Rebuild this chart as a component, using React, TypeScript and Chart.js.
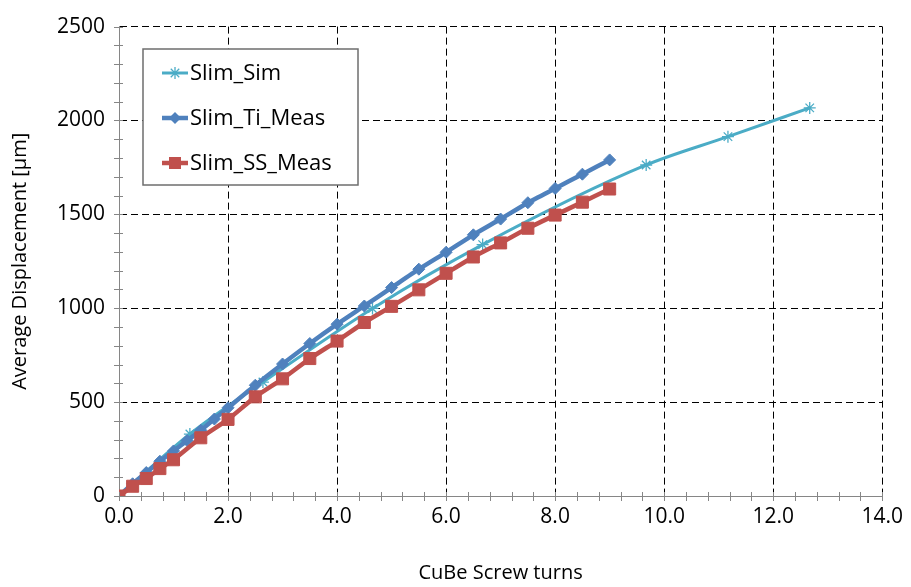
import React, { useEffect, useRef } from "react";
import { Chart, registerables } from "chart.js";
Chart.register(...registerables);

const FONT = "'Open Sans', sans-serif";

// Slim_Sim
const simX = [0, 1.3, 2.64, 4.65, 6.67, 9.67, 11.17, 12.67];
const simY = [0, 330, 607, 999, 1339, 1763, 1914, 2067];
// Slim_Ti_Meas
const tiX = [0, 0.25, 0.5, 0.75, 1, 1.25, 1.5, 1.75, 2, 2.5, 3, 3.5, 4, 4.5, 5, 5.5, 6, 6.5, 7, 7.5, 8, 8.5, 9];
const tiY = [0, 65, 125, 185, 240, 295, 350, 410, 470, 590, 703, 812, 915, 1012, 1110, 1208, 1298, 1391, 1475, 1562, 1638, 1714, 1790];
// Slim_SS_Meas
const ssX = [0, 0.25, 0.5, 0.75, 1, 1.5, 2, 2.5, 3, 3.5, 4, 4.5, 5, 5.5, 6, 6.5, 7, 7.5, 8, 8.5, 9];
const ssY = [0, 52, 93, 146, 193, 310, 408, 528, 624, 732, 825, 924, 1010, 1098, 1186, 1273, 1348, 1426, 1496, 1565, 1635];

const seriesNames = ["Slim_Sim", "Slim_Ti_Meas", "Slim_SS_Meas"];
const xTitle = "CuBe Screw turns";
const yTitle = "Average Displacement [µm]";

const CYAN = "#4BACC6";
const BLUE = "#4F81BD";
const RED = "#C0504D";
const AXIS = "#868686";

const pts = (xs: number[], ys: number[]) => xs.map((x, i) => ({ x, y: ys[i] }));

export default function App() {
  const ref = useRef<HTMLCanvasElement>(null);
  useEffect(() => {
    const canvas = ref.current!;
    const minorTicks = {
      id: "minorTicks",
      afterDraw(chart: any) {
        const c = chart.ctx;
        const xs = chart.scales.x;
        const ys = chart.scales.y;
        c.save();
        c.strokeStyle = AXIS;
        c.lineWidth = 1;
        c.beginPath();
        for (let i = 0; i <= 35; i++) {
          const px = Math.round(xs.getPixelForValue(i * 0.4)) + 0.5;
          c.moveTo(px, ys.bottom - 4);
          c.lineTo(px, ys.bottom + 5);
        }
        for (let i = 0; i <= 25; i++) {
          const py = Math.round(ys.getPixelForValue(i * 100)) + 0.5;
          c.moveTo(xs.left - 5, py);
          c.lineTo(xs.left + 4, py);
        }
        c.stroke();
        c.restore();
      },
    };
    const legendBox = {
      id: "legendBox",
      afterDraw(chart: any) {
        const c = chart.ctx;
        c.save();
        const bx = 143, by = 49, bw = 215, bh = 136;
        c.fillStyle = "#fff";
        c.fillRect(bx, by, bw, bh);
        c.strokeStyle = "#6e6e6e";
        c.lineWidth = 1.5;
        c.strokeRect(bx, by, bw, bh);
        const rows = [73, 118, 163];
        const colors = [CYAN, BLUE, RED];
        const widths = [3, 4.5, 4.5];
        const x0 = 162, x1 = 188, xm = 175;
        rows.forEach((ry, i) => {
          c.strokeStyle = colors[i];
          c.lineWidth = widths[i];
          c.beginPath();
          c.moveTo(x0, ry);
          c.lineTo(x1, ry);
          c.stroke();
          c.fillStyle = colors[i];
          if (i === 0) {
            c.lineWidth = 1.3;
            c.beginPath();
            const r = 6;
            for (let k = 0; k < 4; k++) {
              const a = (k * Math.PI) / 4;
              c.moveTo(xm - r * Math.cos(a), ry - r * Math.sin(a));
              c.lineTo(xm + r * Math.cos(a), ry + r * Math.sin(a));
            }
            c.stroke();
          } else if (i === 1) {
            c.beginPath();
            c.moveTo(xm, ry - 6);
            c.lineTo(xm + 6, ry);
            c.lineTo(xm, ry + 6);
            c.lineTo(xm - 6, ry);
            c.closePath();
            c.fill();
          } else {
            c.fillRect(xm - 6, ry - 6, 12, 12);
          }
          c.fillStyle = "#000";
          c.font = `22px ${FONT}`;
          c.textBaseline = "middle";
          c.textAlign = "left";
          c.fillText(seriesNames[i], 190, ry + 1);
        });
        c.restore();
      },
    };
    const chart = new Chart(canvas, {
      type: "line",
      data: {
        datasets: [
          {
            label: seriesNames[0],
            data: pts(simX, simY),
            borderColor: CYAN,
            backgroundColor: CYAN,
            borderWidth: 3,
            pointStyle: "star",
            pointRadius: 6,
            pointBorderWidth: 1.3,
            cubicInterpolationMode: "monotone",
            order: 3,
          },
          {
            label: seriesNames[1],
            data: pts(tiX, tiY),
            borderColor: BLUE,
            backgroundColor: BLUE,
            borderWidth: 4.5,
            pointStyle: "rectRot",
            pointRadius: 6,
            pointBorderWidth: 1,
            tension: 0.2,
            order: 2,
          },
          {
            label: seriesNames[2],
            data: pts(ssX, ssY),
            borderColor: RED,
            backgroundColor: RED,
            borderWidth: 4.5,
            pointStyle: "rect",
            pointRadius: 8.5,
            pointBorderWidth: 1,
            tension: 0.2,
            order: 1,
          },
        ] as any,
      },
      options: {
        animation: false,
        responsive: true,
        maintainAspectRatio: false,
        layout: { padding: { left: 0, top: 18, right: 26, bottom: 0 } },
        plugins: { legend: { display: false }, tooltip: { enabled: false } },
        scales: {
          x: {
            type: "linear",
            min: 0,
            max: 14,
            afterFit: (s: any) => {
              s.height = 91;
            },
            ticks: {
              stepSize: 2,
              color: "#000",
              font: { family: FONT, size: 21 },
              padding: 8,
              callback: (v: any) => Number(v).toFixed(1),
            },
            grid: { color: "#000", lineWidth: 1, drawTicks: false },
            border: { color: AXIS, width: 1, dash: [7, 4] },
            title: {
              display: true,
              text: xTitle,
              color: "#000",
              font: { family: FONT, size: 20 },
              padding: { top: 0, bottom: 2 },
            },
          },
          y: {
            min: 0,
            max: 2500,
            afterFit: (s: any) => {
              s.width = 119;
            },
            ticks: {
              stepSize: 500,
              color: "#000",
              font: { family: FONT, size: 21 },
              padding: 14,
              callback: (v: any) => String(v),
            },
            grid: { color: "#000", lineWidth: 1, drawTicks: false },
            border: { color: AXIS, width: 1, dash: [7, 4] },
            title: {
              display: true,
              text: yTitle,
              color: "#000",
              font: { family: FONT, size: 20 },
              padding: { top: 8, bottom: 0 },
            },
          },
        },
      } as any,
      plugins: [minorTicks, legendBox],
    });
    return () => chart.destroy();
  }, []);
  return (
    <div style={{ position: "fixed", left: 0, top: 0, width: 911, height: 587, background: "#fff" }}>
      <canvas ref={ref} />
    </div>
  );
}
